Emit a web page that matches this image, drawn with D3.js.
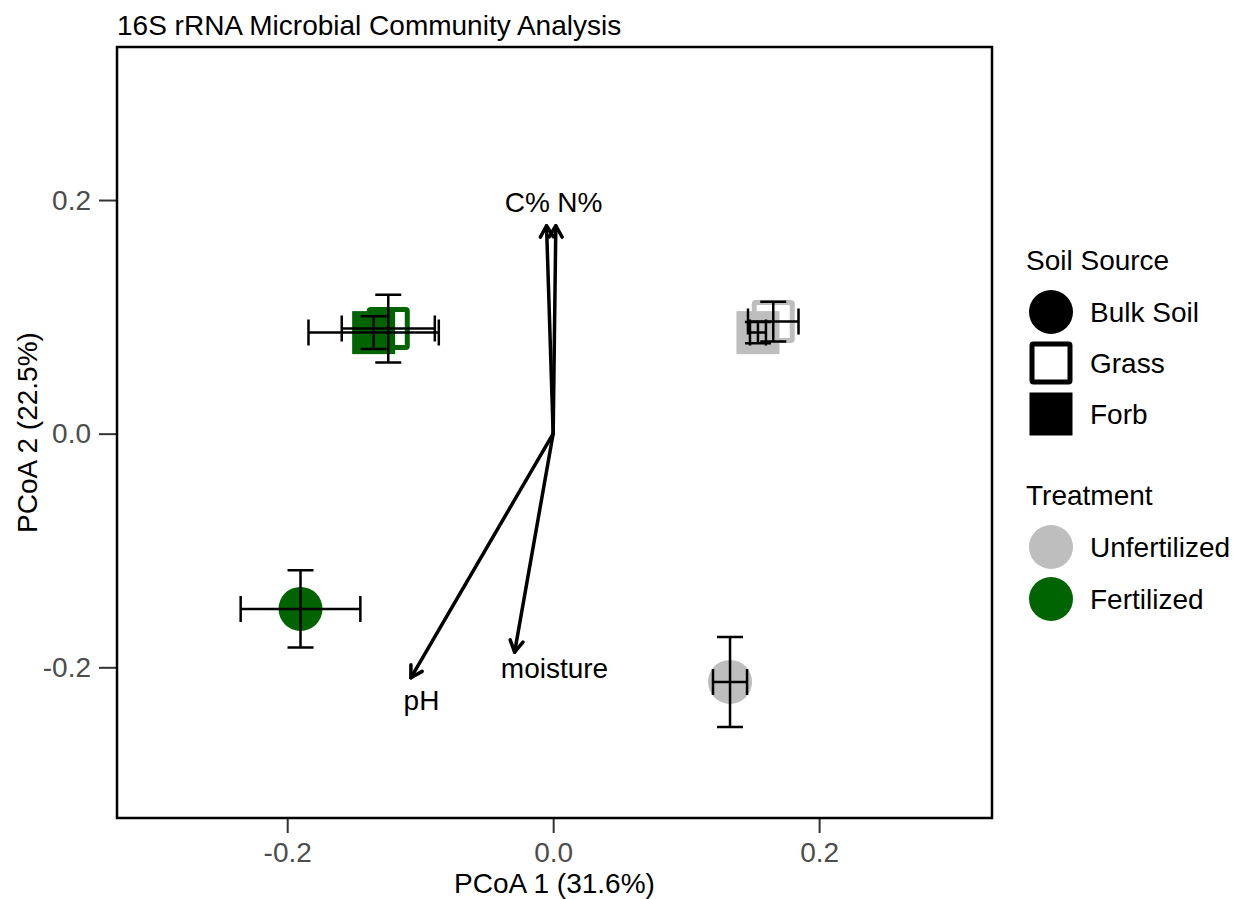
<!DOCTYPE html>
<html>
<head>
<meta charset="utf-8">
<script src="https://cdn.jsdelivr.net/npm/d3@7"></script>
<style>
  body { margin: 0; background: #fff; }
  svg text { font-family: "Liberation Sans", Arial, sans-serif; }
</style>
</head>
<body>
<div id="chart"></div>
<script>
// Group means (PCoA scores) with standard errors
const soilSource = ['Bulk Soil', 'Forb', 'Grass', 'Bulk Soil', 'Forb', 'Grass'];
const treatment  = ['Fertilized', 'Fertilized', 'Fertilized', 'Unfertilized', 'Unfertilized', 'Unfertilized'];
const pcoa1      = [-0.190, -0.135, -0.124, 0.133, 0.154, 0.1655];
const pcoa2      = [-0.150, 0.0865, 0.090, -0.2125, 0.0865, 0.096];
const pcoa1Err   = [0.045, 0.049, 0.035, 0.0128, 0.006, 0.019];
const pcoa2Err   = [0.033, 0.014, 0.029, 0.0385, 0.009, 0.017];

// Environmental vectors (envfit)
const envVar    = ['C%', 'N%', 'pH', 'moisture'];
const envX      = [-0.005, 0.002, -0.107, -0.029];
const envY      = [0.178, 0.178, -0.209, -0.187];
const envLabelX = [-0.0195, 0.020, -0.099, 0.001];
const envLabelY = [0.198, 0.198, -0.228, -0.201];

// Legend entries and axis ticks
const soilLevels  = ['Bulk Soil', 'Grass', 'Forb'];
const treatLevels = ['Unfertilized', 'Fertilized'];
const treatColors = ['#bebebe', '#006400'];
const xTicks = [-0.2, 0.0, 0.2];
const yTicks = [-0.2, 0.0, 0.2];

const cfg = {
    width: 1241, height: 899,
    plot: {left: 117, right: 992, top: 47, bottom: 818},
    xDomain: [-0.328, 0.330],
    yDomain: [-0.329, 0.331],
    fontSize: 28,
    pointR: 22,
    squareSide: 43,
    capWidth: 26,
};

const color = d3.scaleOrdinal().domain(treatLevels).range(treatColors);

const x = d3.scaleLinear().domain(cfg.xDomain).range([cfg.plot.left, cfg.plot.right]);
const y = d3.scaleLinear().domain(cfg.yDomain).range([cfg.plot.bottom, cfg.plot.top]);

const svg = d3.select('#chart').append('svg')
    .attr('width', cfg.width)
    .attr('height', cfg.height)
    .attr('viewBox', `0 0 ${cfg.width} ${cfg.height}`);

// Draw a point marker for a soil source
function marker(sel, soil, fill) {
    if (soil === 'Bulk Soil') {
        sel.append('circle').attr('r', cfg.pointR).attr('fill', fill);
    } else if (soil === 'Forb') {
        sel.append('rect')
            .attr('x', -cfg.squareSide / 2).attr('y', -cfg.squareSide / 2)
            .attr('width', cfg.squareSide).attr('height', cfg.squareSide)
            .attr('fill', fill);
    } else {
        const s = cfg.squareSide - 5;
        sel.append('rect')
            .attr('x', -s / 2).attr('y', -s / 2)
            .attr('width', s).attr('height', s)
            .attr('rx', 1.5)
            .attr('fill', 'none').attr('stroke', fill).attr('stroke-width', 5);
    }
}

// Title
svg.append('text')
    .attr('x', cfg.plot.left).attr('y', 35)
    .attr('font-size', cfg.fontSize)
    .text('16S rRNA Microbial Community Analysis');

// Axes
const xAxis = svg.append('g')
    .attr('transform', `translate(0,${cfg.plot.bottom})`)
    .call(d3.axisBottom(x).tickValues(xTicks).tickFormat(d3.format('.1f')).tickSize(15).tickPadding(9));
const yAxis = svg.append('g')
    .attr('transform', `translate(${cfg.plot.left},0)`)
    .call(d3.axisLeft(y).tickValues(yTicks).tickFormat(d3.format('.1f')).tickSize(18).tickPadding(8));

[xAxis, yAxis].forEach(a => {
    a.select('.domain').remove();
    a.selectAll('line').attr('stroke', '#333').attr('stroke-width', 2);
    a.selectAll('text')
        .attr('fill', '#4d4d4d')
        .style('font-size', cfg.fontSize + 'px')
        .style('font-family', '"Liberation Sans", Arial, sans-serif');
});
// d3 uses a unicode minus; ggplot prints a hyphen
svg.selectAll('.tick text').text(d => d.toFixed(1));

svg.append('text')
    .attr('x', (cfg.plot.left + cfg.plot.right) / 2).attr('y', 893)
    .attr('text-anchor', 'middle')
    .attr('font-size', cfg.fontSize)
    .text('PCoA 1 (31.6%)');

svg.append('text')
    .attr('transform', `translate(37,${(cfg.plot.top + cfg.plot.bottom) / 2}) rotate(-90)`)
    .attr('text-anchor', 'middle')
    .attr('font-size', cfg.fontSize)
    .text('PCoA 2 (22.5%)');

// Points
const points = pcoa1.map((d, i) => ({
    soil: soilSource[i], treat: treatment[i],
    x: d, y: pcoa2[i], xe: pcoa1Err[i], ye: pcoa2Err[i]
}));

const pg = svg.append('g').attr('class', 'points');
points.forEach(p => {
    const g = pg.append('g').attr('transform', `translate(${x(p.x)},${y(p.y)})`);
    marker(g, p.soil, color(p.treat));
});

// Error bars
const eg = svg.append('g').attr('class', 'errorbars')
    .attr('stroke', '#000').attr('stroke-width', 2.5).attr('fill', 'none');
const hc = cfg.capWidth / 2;
points.forEach(p => {
    const cx = x(p.x), cy = y(p.y);
    const x0 = x(p.x - p.xe), x1 = x(p.x + p.xe);
    const y0 = y(p.y - p.ye), y1 = y(p.y + p.ye);
    eg.append('path').attr('d',
        `M${x0},${cy}H${x1}M${x0},${cy - hc}V${cy + hc}M${x1},${cy - hc}V${cy + hc}` +
        `M${cx},${y0}V${y1}M${cx - hc},${y0}H${cx + hc}M${cx - hc},${y1}H${cx + hc}`);
});

// Environmental arrows
const ag = svg.append('g').attr('class', 'arrows')
    .attr('stroke', '#000').attr('stroke-width', 3.5).attr('fill', 'none')
    .attr('stroke-linecap', 'round').attr('stroke-linejoin', 'round');
envVar.forEach((v, i) => {
    const sx = x(0), sy = y(0), ex = x(envX[i]), ey = y(envY[i]);
    const ang = Math.atan2(ey - sy, ex - sx), L = 13, a = Math.PI / 6;
    ag.append('path').attr('d', `M${sx},${sy}L${ex},${ey}`);
    ag.append('path').attr('d',
        `M${ex - L * Math.cos(ang - a)},${ey - L * Math.sin(ang - a)}L${ex},${ey}` +
        `L${ex - L * Math.cos(ang + a)},${ey - L * Math.sin(ang + a)}`);
    svg.append('text')
        .attr('x', x(envLabelX[i])).attr('y', y(envLabelY[i]))
        .attr('dy', '0.35em')
        .attr('text-anchor', 'middle')
        .attr('font-size', cfg.fontSize)
        .text(v);
});

// Plot border
svg.append('rect')
    .attr('x', cfg.plot.left).attr('y', cfg.plot.top)
    .attr('width', cfg.plot.right - cfg.plot.left)
    .attr('height', cfg.plot.bottom - cfg.plot.top)
    .attr('fill', 'none').attr('stroke', '#000').attr('stroke-width', 2.5);

// Legends
const lg = svg.append('g').attr('transform', 'translate(1026,0)');
lg.append('text').attr('x', 0).attr('y', 270).attr('font-size', cfg.fontSize).text('Soil Source');
soilLevels.forEach((s, i) => {
    const cy = 312 + i * 51;
    marker(lg.append('g').attr('transform', `translate(25,${cy})`), s, '#000');
    lg.append('text').attr('x', 64).attr('y', cy).attr('dy', '0.35em')
        .attr('font-size', cfg.fontSize).text(s);
});
lg.append('text').attr('x', 0).attr('y', 505).attr('font-size', cfg.fontSize).text('Treatment');
treatLevels.forEach((t, i) => {
    const cy = 547 + i * 52;
    lg.append('circle').attr('cx', 25).attr('cy', cy).attr('r', cfg.pointR).attr('fill', color(t));
    lg.append('text').attr('x', 64).attr('y', cy).attr('dy', '0.35em')
        .attr('font-size', cfg.fontSize).text(t);
});
</script>
</body>
</html>
